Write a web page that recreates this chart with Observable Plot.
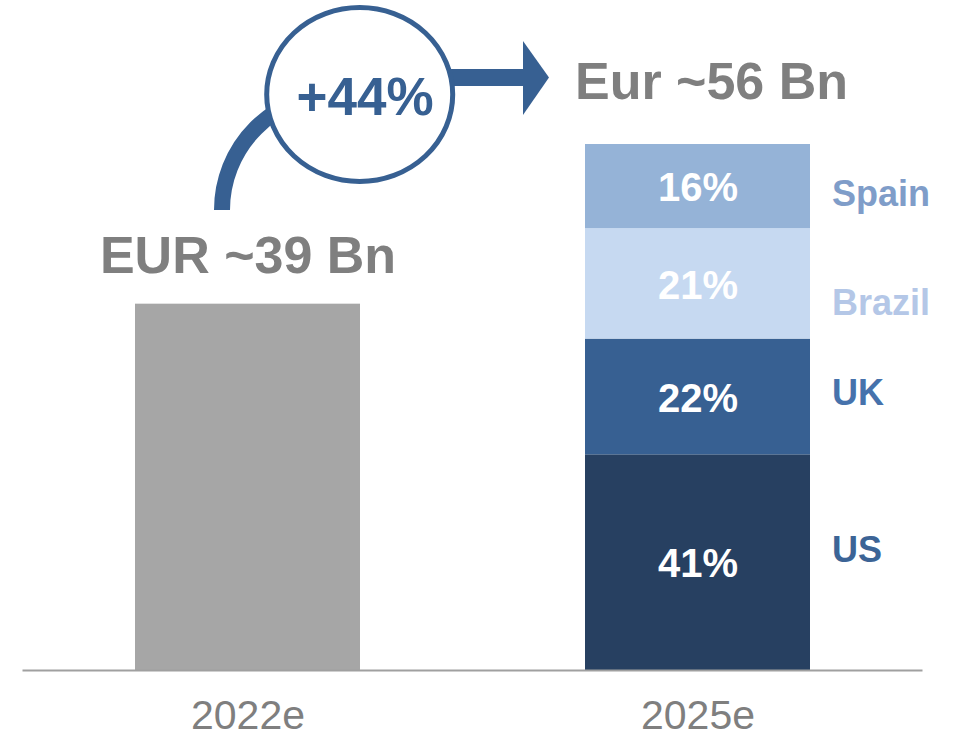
<!DOCTYPE html>
<html>
<head>
<meta charset="utf-8">
<script src="https://cdn.jsdelivr.net/npm/d3@7"></script>
<script src="https://cdn.jsdelivr.net/npm/@observablehq/plot@0.6"></script>
<style>
  html, body { margin: 0; padding: 0; background: #fff; }
  #chart svg { display: block; }
</style>
</head>
<body>
<div id="chart"></div>
<script>
// ---- data ----
const years = ["2022e", "2025e"];
const totals = [39, 56];
const totalLabels = ["EUR ~39 Bn", "Eur ~56 Bn"];
const countries = ["US", "UK", "Brazil", "Spain"];
const shares2025 = [41, 22, 21, 16];
const growthLabel = "+44%";

// ---- derived tables ----
const rows2022 = [{year: years[0], country: "Total", value: totals[0]}];
let acc = 0;
const rows2025 = countries.map((c, i) => {
  const v = totals[1] * shares2025[i] / 100;
  const r = {year: years[1], country: c, value: v, share: shares2025[i], y1: acc, y2: acc + v};
  acc += v;
  return r;
});
const totalRows = years.map((y, i) => ({year: y, value: totals[i], label: totalLabels[i]}));

const FONT = "'Liberation Sans', Arial, Helvetica, sans-serif";
const fillDomain = ["Total", ...countries];
const fillRange = ["#a6a6a6", "#274061", "#376092", "#c6d9f1", "#95b3d7"];
const labelColors = {US: "#3c6496", UK: "#4672ac", Brazil: "#b4c7e7", Spain: "#7f9dc9"};
const labelDy = {US: -12, UK: -4, Brazil: 20, Spain: 8};

const plot = Plot.plot({
  width: 956,
  height: 738,
  marginLeft: 22.5,
  marginRight: 33.5,
  marginTop: 144,
  marginBottom: 68,
  style: {fontFamily: FONT, background: "#fff"},
  x: {domain: years, paddingInner: 0.5, paddingOuter: 0.25, axis: null},
  y: {domain: [0, totals[1]], axis: null},
  color: {domain: fillDomain, range: fillRange},
  marks: [
    Plot.barY(rows2022, {x: "year", y: "value", fill: "country"}),
    Plot.barY(rows2025, {x: "year", y1: "y1", y2: "y2", fill: "country"}),
    Plot.ruleY([0], {stroke: "#a0a0a0", strokeWidth: 2}),
    // percentages inside segments
    Plot.text(rows2025, {
      x: "year", y: d => (d.y1 + d.y2) / 2, text: d => d.share + "%",
      fill: "#ffffff", fontSize: 40, fontWeight: "bold", dy: 2
    }),
    // country labels right of the stack
    ...countries.map(c => Plot.text(rows2025.filter(d => d.country === c), {
      x: "year", y: d => (d.y1 + d.y2) / 2, text: "country",
      fill: labelColors[c], fontSize: 36, fontWeight: "bold",
      textAnchor: "start", dx: 134, dy: labelDy[c]
    })),
    // total labels above bars
    Plot.text(totalRows.slice(0, 1), {
      x: "year", y: "value", text: "label", fill: "#7f7f7f",
      fontSize: 52, fontWeight: "bold", dy: -48
    }),
    Plot.text(totalRows.slice(1), {
      x: "year", y: "value", text: "label", fill: "#7f7f7f",
      fontSize: 52, fontWeight: "bold", dy: -62, dx: 13.5
    }),
    // category labels
    Plot.text(years, {
      x: d => d, frameAnchor: "bottom", lineAnchor: "middle", text: d => d, fill: "#7f7f7f",
      fontSize: 41, dy: 45
    })
  ]
});

// ---- growth annotation, positioned from the plot's scales ----
const xs = plot.scale("x");
const ys = plot.scale("y");
const cx1 = xs.apply(years[0]) + xs.bandwidth / 2;
const topY = ys.apply(totals[1]);
const col = "#376092";
const g = d3.select(plot).append("g");
g.append("path")
  .attr("d", `M${cx1 - 25.5},${topY + 66} A116,116 0 0 1 ${cx1 + 90.5},${topY - 50}`)
  .attr("fill", "none").attr("stroke", col).attr("stroke-width", 16);
g.append("rect")
  .attr("x", cx1 + 195).attr("y", topY - 75).attr("width", 82).attr("height", 17)
  .attr("fill", col);
g.append("path")
  .attr("d", `M${cx1 + 275.5},${topY - 103} L${cx1 + 301.5},${topY - 66.5} L${cx1 + 275.5},${topY - 29} Z`)
  .attr("fill", col);
g.append("ellipse")
  .attr("cx", cx1 + 112.2).attr("cy", topY - 49.5).attr("rx", 93).attr("ry", 87)
  .attr("fill", "#fff").attr("stroke", col).attr("stroke-width", 5);
g.append("text")
  .attr("x", cx1 + 117.5).attr("y", topY - 29)
  .attr("text-anchor", "middle").attr("fill", col)
  .attr("font-size", 53).attr("font-weight", "bold").attr("font-family", FONT)
  .text(growthLabel);

document.getElementById("chart").appendChild(plot);
</script>
</body>
</html>
